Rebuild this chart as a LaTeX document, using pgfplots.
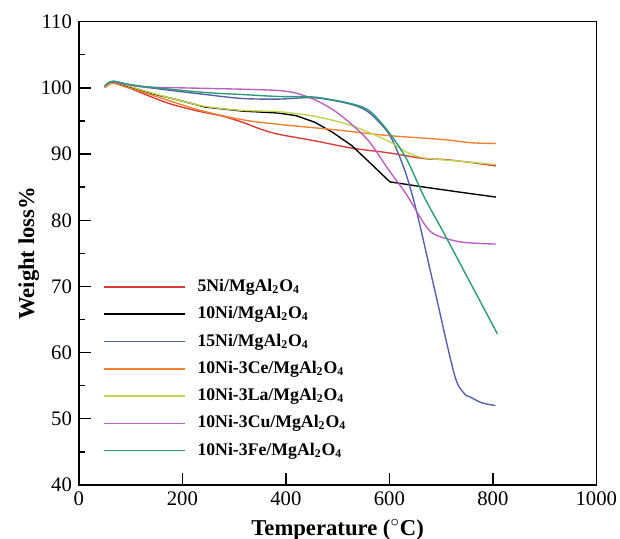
\documentclass[border=0pt]{standalone}
\usepackage{fontspec}
\setmainfont{Liberation Serif}
\usepackage{pgfplots}
\pgfplotsset{compat=1.18}

\definecolor{cred}{RGB}{220,60,55}
\definecolor{cblue}{RGB}{85,95,175}
\definecolor{corange}{RGB}{240,130,50}
\definecolor{cla}{RGB}{190,215,80}
\definecolor{ccu}{RGB}{190,95,190}
\definecolor{cfe}{RGB}{40,155,120}

\newcommand{\spl}{MgAl\textsubscript{2}O\textsubscript{4}}

\begin{document}
\begin{tikzpicture}
\begin{axis}[
    scale only axis,
    width=262.5pt,
    height=235pt,
    xmin=0, xmax=1000,
    ymin=40, ymax=110,
    xtick={0,200,...,1000},
    ytick={40,50,...,110},
    minor ytick={45,55,...,105},
    xtick pos=left, ytick pos=left,
    tick align=inside,
    major tick length=6pt,
    minor tick length=3pt,
    axis line style={line width=0.8pt},
    every tick/.style={line width=0.7pt, black},
    tick label style={font=\fontsize{10.5}{12}\selectfont},
    /pgf/number format/assume math mode=true,
    /pgf/number format/set thousands separator={},
    xlabel={\textbf{Temperature ($^{\circ}$C)}},
    ylabel={\textbf{Weight loss\%}},
    label style={font=\fontsize{11.5}{13}\selectfont},
    xlabel style={yshift=0pt},
    ylabel style={yshift=-6pt},
    legend style={at={(rel axis cs:0.035,0.462)}, anchor=north west, draw=none, fill=none,
        font=\fontsize{9}{10}\selectfont\bfseries, row sep=2.1pt,
        nodes={inner xsep=6pt}},
    legend cell align=left,
    legend image code/.code={\draw[#1, line width=0.8pt] (0pt,0pt) -- (41pt,0pt);},
    every axis plot/.append style={line width=0.7pt},
]
\addplot[cred, smooth] coordinates {(50,100.1)(58,100.6)(67,100.8)(80,100.5)(100,99.9)(138,98.7)(180,97.5)(230,96.5)(279,95.7)(320,94.7)(350,93.8)(385,93.0)(456,92.0)(527,90.9)(597,90.2)(668,89.3)(703,89.2)(750,88.8)(806,88.2)};
\addplot[black] coordinates {(50,100.2)(58,100.7)(67,100.9)(80,100.6)(100,100.1)(138,99.2)(190,98.2)(244,97.1)(315,96.5)(385,96.2)(420,95.8)(456,94.8)(490,93.3)(527,91.3)(565,88.5)(601,85.8)(668,85.0)(740,84.2)(806,83.5)};
\addplot[cblue, smooth] coordinates {(50,100.2)(58,100.8)(67,101.0)(80,100.8)(100,100.4)(138,100.0)(244,99.0)(315,98.4)(385,98.3)(456,98.5)(527,97.5)(562,96.2)(597,93.3)(615,90.5)(633,86.8)(654,80.9)(689,69.0)(726,56.6)(745,53.8)(756,53.3)(779,52.4)(805,52.0)};
\addplot[corange, smooth] coordinates {(50,100.0)(58,100.5)(67,100.7)(80,100.4)(100,99.9)(138,99.0)(230,96.7)(315,95.2)(385,94.5)(491,93.7)(597,92.8)(703,92.2)(760,91.7)(806,91.6)};
\addplot[cla, smooth] coordinates {(50,100.2)(58,100.7)(67,101.0)(80,100.7)(100,100.2)(138,99.3)(190,98.2)(244,97.2)(315,96.6)(385,96.4)(456,95.7)(527,94.3)(597,92.0)(633,90.3)(668,89.4)(740,88.9)(806,88.4)};
\addplot[ccu, smooth] coordinates {(50,100.2)(58,100.8)(67,100.9)(80,100.7)(100,100.4)(138,100.1)(200,100.0)(315,99.8)(385,99.6)(420,99.2)(456,98.2)(491,96.7)(527,94.5)(562,91.8)(597,87.8)(633,83.9)(668,79.4)(689,77.8)(739,76.7)(806,76.4)};
\addplot[cfe, smooth] coordinates {(50,100.2)(58,100.8)(67,101.0)(80,100.8)(100,100.5)(138,100.1)(244,99.3)(315,99.0)(385,98.7)(456,98.6)(527,97.6)(562,96.5)(597,93.5)(633,89.3)(668,83.4)(703,78.4)(767,69.0)(809,62.8)};
\legend{5Ni/\spl, 10Ni/\spl, 15Ni/\spl, 10Ni-3Ce/\spl, 10Ni-3La/\spl, 10Ni-3Cu/\spl, 10Ni-3Fe/\spl}
\coordinate (sw) at (rel axis cs:0,0);
\coordinate (ne) at (rel axis cs:1,1);
\end{axis}
\pgfresetboundingbox
\path[use as bounding box] ([shift={(-40pt,-27pt)}]sw) rectangle ([shift={(12pt,11pt)}]ne);
\end{tikzpicture}
\end{document}
